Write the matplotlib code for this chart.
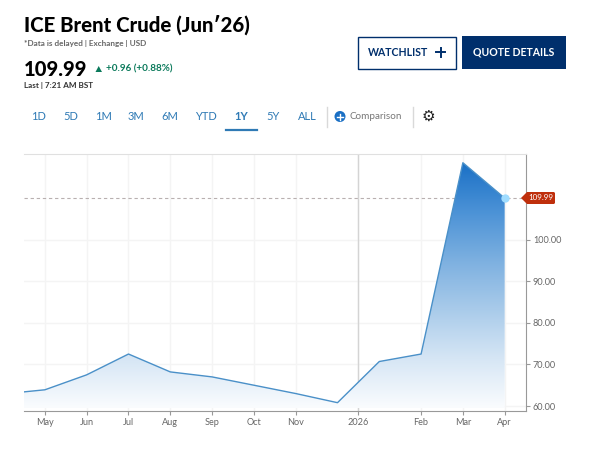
import matplotlib

matplotlib.use("Agg")

import matplotlib.pyplot as plt
import numpy as np
from matplotlib.colors import LinearSegmentedColormap
from matplotlib.patches import Circle, Polygon, Rectangle

# values, x is months after May 2025
MONTH_POS = [-0.5, 0, 1, 2, 3, 4, 5, 6, 7, 8, 9, 10, 11]
PRICES = [63.4, 63.9, 67.5, 72.5, 68.2, 67.0, 65.0, 63.0, 60.8, 70.7, 72.5, 118.5, 109.99]
TICK_POS = [0, 1, 2, 3, 4, 5, 6, 7.5, 9, 10, 11]
TICK_LABELS = ["May", "Jun", "Jul", "Aug", "Sep", "Oct", "Nov", "2026", "Feb", "Mar", "Apr"]
Y_TICKS = [60, 70, 80, 90, 100]
LAST = 109.99
RANGES = ["1D", "5D", "1M", "3M", "6M", "YTD", "1Y", "5Y", "ALL"]
RANGE_X = [39, 71, 103, 136, 170, 206, 241, 273, 307]

NAVY = "#002f6c"
LINK = "#2f7ab5"
GREY = "#999999"
TEXT = "#666666"
FONT = "Lato"

plt.rcParams["font.family"] = FONT

fig = plt.figure(figsize=(5.9, 4.5), dpi=100)
fig.patch.set_facecolor("white")

# chart area in pixels: x 24-526, y 154-411
ax = fig.add_axes([24 / 590, 1 - 411 / 450, 502 / 590, 257 / 450])
X_LIM = (-0.5, 11.51)
Y_LIM = (58.8, 120.6)

ax.spines["left"].set_visible(False)
ax.spines["top"].set_color("#e0e0e0")
ax.spines["right"].set_color(GREY)
ax.spines["bottom"].set_color(GREY)
ax.yaxis.tick_right()
ax.set_yticks(Y_TICKS)
ax.set_yticklabels([f"{v:.2f}" for v in Y_TICKS], fontsize=6.6, color=TEXT)
ax.set_xticks(TICK_POS)
ax.set_xticklabels(TICK_LABELS, fontsize=6.6, color=TEXT)
ax.tick_params(axis="both", length=3, width=0.8, color=GREY, pad=2)
ax.grid(True, color="#f4f4f4", linewidth=1)
ax.set_axisbelow(True)
ax.axvline(7.5, color="#d4d4d4", linewidth=1, zorder=1)

# area under the line, fades from blue to nearly white
cmap = LinearSegmentedColormap.from_list(
    "fade", ["#fafcfe", "#d6e6f5", "#a9cbea", "#7db0e0", "#4b92d6", "#1a70c6"]
)
grad = np.linspace(0, 1, 256).reshape(-1, 1)
img = ax.imshow(
    grad,
    cmap=cmap,
    origin="lower",
    aspect="auto",
    extent=[-0.5, 11, 59.5, 118.5],
    zorder=2,
)
ax.set_xlim(*X_LIM)
ax.set_ylim(*Y_LIM)
poly = Polygon(
    list(zip(MONTH_POS, PRICES)) + [(11, 59.5), (-0.5, 59.5)],
    closed=True,
    transform=ax.transData,
    facecolor="none",
    edgecolor="none",
)
ax.add_patch(poly)
img.set_clip_path(poly)

ax.plot(MONTH_POS, PRICES, color="#4a90c8", linewidth=1, zorder=3)
ax.axhline(LAST, color="#b8b0b0", linewidth=0.8, linestyle=(0, (3, 2.5)), zorder=1.5)
ax.plot([11], [LAST], "o", color="#9fdcff", markersize=6, markeredgewidth=0, zorder=4)

# header and buttons, drawn in pixel coordinates
ui = fig.add_axes([0, 0, 1, 1], facecolor="none")
ui.set_xlim(0, 590)
ui.set_ylim(450, 0)
ui.axis("off")

ui.text(24, 25, "ICE Brent Crude (Jun\u203226)", fontsize=14.7, fontweight="black", color="black", va="center")
ui.text(24, 43.5, "*Data is delayed | Exchange | USD", fontsize=5.9, fontweight="bold", color="#666666", va="center")
ui.text(24, 69, "109.99", fontsize=14.5, fontweight="black", color="black", va="center")
ui.add_patch(Polygon([(95.5, 72), (102, 72), (98.7, 66)], facecolor="#0b7a5b", edgecolor="none"))
ui.text(106, 69, "+0.96 (+0.88%)", fontsize=7.1, fontweight="bold", color="#0b7a5b", va="center")
ui.text(24, 85.5, "Last | 7:21 AM BST", fontsize=5.9, fontweight="bold", color="#333333", va="center")

ui.add_patch(Rectangle((357.5, 36.5), 98, 32, facecolor="white", edgecolor=NAVY, linewidth=1))
ui.text(367.5, 52, "WATCHLIST", fontsize=7.6, fontweight="bold", color=NAVY, va="center")
ui.plot([436, 445], [52, 52], color=NAVY, linewidth=1.4)
ui.plot([440.5, 440.5], [47.5, 56.5], color=NAVY, linewidth=1.4)
ui.add_patch(Rectangle((462, 36), 104, 33, facecolor=NAVY, edgecolor="none"))
ui.text(514, 52, "QUOTE DETAILS", fontsize=7.6, fontweight="bold", color="white", ha="center", va="center")

for name, x in zip(RANGES, RANGE_X):
    ui.text(x, 116.5, name, fontsize=8, color=LINK, ha="center", va="center",
            fontweight="bold" if name == "1Y" else "normal")
ui.plot([226, 257], [129.5, 129.5], color=LINK, linewidth=1.6)
ui.plot([326.5, 326.5], [107, 127], color="#d9d9d9", linewidth=1)
ui.plot([412.5, 412.5], [107, 127], color="#d9d9d9", linewidth=1)
ui.add_patch(Circle((340, 116.5), 5.5, facecolor="#1a6fc4", edgecolor="none"))
ui.plot([337, 343], [116.5, 116.5], color="white", linewidth=1)
ui.plot([340, 340], [113.5, 119.5], color="white", linewidth=1)
ui.text(349, 116.5, "Comparison", fontsize=7.1, color="#777777", va="center")
ui.text(428, 116.5, "\u2699", fontsize=11, color="#222222", ha="center", va="center", family="DejaVu Sans")

# last price flag
ui.add_patch(Polygon(
    [(521, 198), (527, 192), (554, 192), (555, 193), (555, 203), (554, 204), (527, 204)],
    facecolor="#bf2f0c", edgecolor="none", zorder=5,
))
ui.text(541, 198, f"{LAST:.2f}", fontsize=5.8, color="white", ha="center", va="center", zorder=6)

fig.savefig("out.png", dpi=100, facecolor="white")
